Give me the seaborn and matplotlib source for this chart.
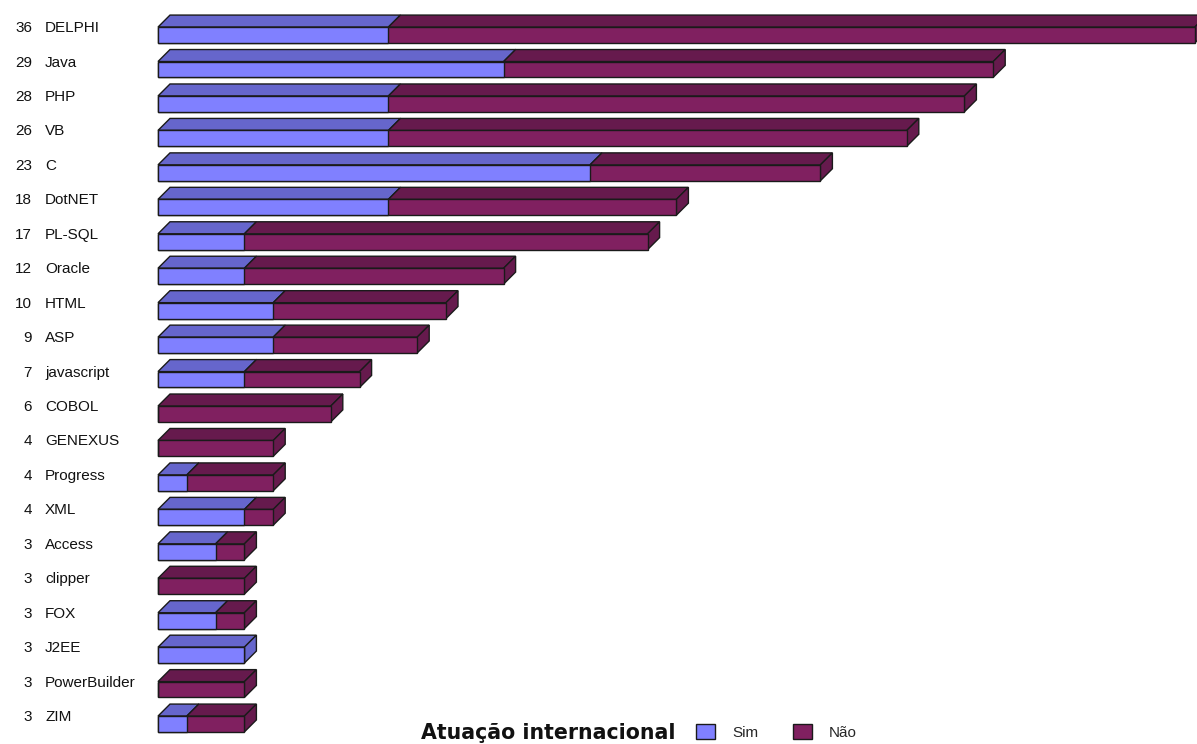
import matplotlib.pyplot as plt
import seaborn as sns
import numpy as np
import pandas as pd
from matplotlib.patches import Polygon, Patch

# data
linguagens = ["DELPHI", "Java", "PHP", "VB", "C", "DotNET", "PL-SQL", "Oracle",
              "HTML", "ASP", "javascript", "COBOL", "GENEXUS", "Progress", "XML",
              "Access", "clipper", "FOX", "J2EE", "PowerBuilder", "ZIM"]
sim = [8, 12, 8, 8, 15, 8, 3, 3, 4, 4, 3, 0, 0, 1, 3, 2, 0, 2, 3, 0, 1]
nao = [28, 17, 20, 18, 8, 10, 14, 9, 6, 5, 4, 6, 4, 3, 1, 1, 3, 1, 0, 3, 2]
total = [s + n for s, n in zip(sim, nao)]

df = pd.DataFrame({"linguagem": linguagens, "sim": sim, "nao": nao, "total": total})

sim_front, sim_dark = "#8080FF", "#6666CC"
nao_front, nao_dark = "#802060", "#661A4D"
edge = "#1a1a1a"

sns.set_style("white")
plt.rcParams["font.family"] = ["Liberation Sans", "DejaVu Sans"]

fig = plt.figure(figsize=(11.97, 7.44), dpi=100)
ax = fig.add_axes([0, 0, 1, 1])

bar_h = 0.46
sns.barplot(data=df, x="total", y="linguagem", orient="h", color=nao_front,
            width=bar_h, saturation=1, edgecolor=edge, linewidth=1, ax=ax, zorder=2)
sns.barplot(data=df, x="sim", y="linguagem", orient="h", color=sim_front,
            width=bar_h, saturation=1, edgecolor=edge, linewidth=1, ax=ax, zorder=3)

# map the axes so that 1 unit ~ 28.8 px and rows are ~34.45 px apart
px_x, px_y = 28.8, 34.45
ax.set_xlim(-158 / px_x, (1197 - 158) / px_x)
ax.set_ylim((744 - 35) / px_y, -35 / px_y)
ax.axis("off")

# 3D depth (12 px right and up)
dx, dy = 12 / px_x, 12 / px_y
n = len(linguagens)
tot_bars = ax.patches[:n]
sim_bars = ax.patches[n:2 * n]

def top_face(x0, x1, yt, color):
    ax.add_patch(Polygon([(x0, yt), (x1, yt), (x1 + dx, yt - dy), (x0 + dx, yt - dy)],
                         closed=True, facecolor=color, edgecolor=edge, lw=1, zorder=1))

for tb, sb, s, t in zip(tot_bars, sim_bars, sim, total):
    yt = min(tb.get_y(), tb.get_y() + tb.get_height())
    yb = max(tb.get_y(), tb.get_y() + tb.get_height())
    xs = sb.get_width()
    xt = tb.get_width()
    if s > 0:
        top_face(0, xs, yt, sim_dark)
    if t > s:
        top_face(xs, xt, yt, nao_dark)
    side = sim_dark if t == s else nao_dark
    ax.add_patch(Polygon([(xt, yt), (xt, yb), (xt + dx, yb - dy), (xt + dx, yt - dy)],
                         closed=True, facecolor=side, edgecolor=edge, lw=1, zorder=1))

# row labels: total + name
for i, (nome, t) in enumerate(zip(linguagens, total)):
    ax.annotate(str(t), xy=(32, i), xycoords=("figure pixels", "data"),
                xytext=(0, 5), textcoords="offset points",
                ha="right", va="center", fontsize=11, color="#111111")
    ax.annotate(nome, xy=(45, i), xycoords=("figure pixels", "data"),
                xytext=(0, 5), textcoords="offset points",
                ha="left", va="center", fontsize=11, color="#111111")

# legend
fig.text(421 / 1197, 5 / 744, "Atuação internacional", fontsize=14.8,
         fontweight="bold", family="DejaVu Sans", ha="left", va="baseline",
         color="#111111")
handles = [Patch(facecolor=sim_front, edgecolor=edge, label="Sim"),
           Patch(facecolor=nao_front, edgecolor=edge, label="Não")]
fig.legend(handles=handles, loc="lower left", bbox_to_anchor=(696 / 1197, 4 / 744),
           ncol=2, frameon=False, fontsize=11, handlelength=1.25, handleheight=1.1,
           handletextpad=1.1, columnspacing=2.3, borderpad=0, borderaxespad=0)

fig.savefig("out.png", dpi=100, facecolor="white")
